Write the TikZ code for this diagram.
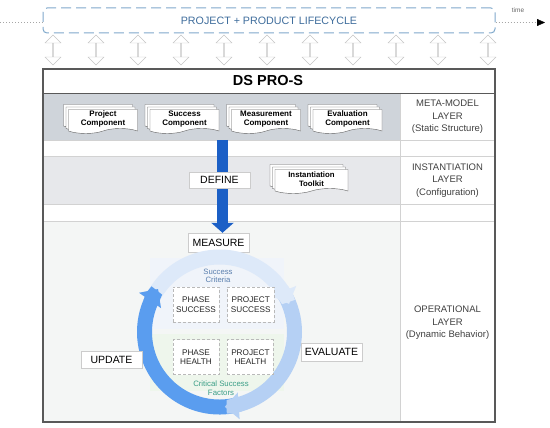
\documentclass[tikz,border=0pt]{standalone}
\usepackage{fontspec}
\setmainfont{Liberation Sans}
\usetikzlibrary{arrows.meta,positioning,shapes.arrows,shapes.symbols,shadows}
\definecolor{lifeblue}{HTML}{3F6D9C}
\definecolor{lifedash}{HTML}{7FA8CB}
\definecolor{defblue}{HTML}{1B5FC6}
\definecolor{metagray}{HTML}{CFD4DA}
\definecolor{instgray}{HTML}{E7E8EB}
\definecolor{opergray}{HTML}{F4F6F5}
\definecolor{ringa}{HTML}{DDE9F9}
\definecolor{ringb}{HTML}{B5D0F4}
\definecolor{ringc}{HTML}{5A9DEF}
\definecolor{critblue}{HTML}{5A7FAE}
\definecolor{critgreen}{HTML}{3A9E86}
\definecolor{bandblue}{HTML}{F0F4FA}
\definecolor{bandgreen}{HTML}{EEF6EC}

\begin{document}
\begin{tikzpicture}[x=1pt,y=-1pt,node distance=81.5pt,
    life/.style={draw=lifedash,dash pattern=on 10pt off 5pt,rounded corners=4pt,
      line width=1pt,minimum width=452pt,minimum height=25pt,text=lifeblue,
      font=\fontsize{10.7}{12}\selectfont},
    sync/.style={double arrow,rotate=90,draw=gray!45,fill=white,inner sep=0pt,
      minimum height=30pt,minimum width=16pt,double arrow head extend=4pt},
    comp/.style={tape,tape bend top=none,tape bend height=5pt,draw=gray!75!black,
      fill=white,double copy shadow={shadow xshift=-2.5pt,shadow yshift=2.5pt,
        draw=gray!75!black,fill=white},
      minimum width=69pt,minimum height=24pt,inner sep=1pt,align=center,
      font=\bfseries\fontsize{8}{9.5}\selectfont},
    layer/.style={align=center,text=black!75,font=\fontsize{9.5}{12.5}\selectfont},
    stage/.style={draw=gray!40,fill=white,minimum width=61pt,minimum height=17pt,
      inner xsep=3pt,font=\fontsize{10.5}{12}\selectfont},
    cell/.style={draw=gray!55,dash pattern=on 3pt off 2pt,fill=white,
      minimum width=46pt,minimum height=35pt,align=center,text=black!85,
      font=\fontsize{8.2}{9.7}\selectfont},
    sep/.style={draw=gray!35,line width=0.6pt},
    ring/.style={line width=15pt},
    ringhead/.style={ring,-{Triangle[width=26pt,length=14pt]}},
    flow/.style={draw=defblue,line width=11pt,-{Triangle[width=22pt,length=10pt]}}]
  \useasboundingbox (0,0) rectangle (550,428);

  \node[life] (life) at (269,20.5) {PROJECT + PRODUCT LIFECYCLE};
  \node[text=black!60,font=\fontsize{6.5}{7}\selectfont] (time) at (518,10) {time};
  \coordinate (past) at (0,22.5);
  \coordinate (future) at (545,22.5);
  \draw[gray!70,dash pattern=on 1pt off 2pt] (past) -- (past -| life.west);
  \draw[gray!70,dash pattern=on 1pt off 2pt,-{Triangle[width=7pt,length=8pt,black]}]
    (life.east |- future) -- (future);
  \foreach \x [count=\i] in {53,96,138,181,224,267,310,353,396,438,488}
    \node[sync] (sync\i) at (\x,50) {};

  \fill[metagray] (43,93) rectangle (400,140);
  \fill[instgray] (43,156) rectangle (400,204);
  \fill[opergray] (43,221) rectangle (400,422);
  \draw[sep] (43,140) -- (495,140) (43,156) -- (495,156)
    (43,204) -- (495,204) (43,221) -- (495,221) (400,93) -- (400,422);
  \draw[gray!70!black,line width=0.8pt] (43,93) -- (495,93);
  \node[font=\bfseries\fontsize{14.5}{16}\selectfont] (dspros) at (268,81) {DS PRO-S};

  \node[comp] (proj) at (103,119) {Project\\Component};
  \node[comp] (succ) [right of=proj] {Success\\Component};
  \node[comp] (meas) [right of=succ] {Measurement\\Component};
  \node[comp] (eval) [right of=meas] {Evaluation\\Component};
  \node[comp,minimum width=73pt,font=\bfseries\fontsize{7.8}{9.5}\selectfont]
    (toolkit) at (311.5,179) {Instantiation\\Toolkit};

  \node[layer] (metalbl) at (447.5,117) {META-MODEL\\LAYER\\(Static Structure)};
  \node[layer] (instlbl) at (447.5,180.5) {INSTANTIATION\\LAYER\\(Configuration)};
  \node[layer] (operlbl) at (447.5,323) {OPERATIONAL\\LAYER\\(Dynamic Behavior)};

  \node[stage,minimum height=19pt] (measure) at (218.5,242.5) {MEASURE};
  \coordinate (defstart) at (222.5,140);
  \draw[flow] (defstart) -- (defstart |- measure.north);
  \node[stage,minimum height=16pt] (define) at (219.5,180) {DEFINE};

  \fill[bandblue] (150,258) rectangle (284,329);
  \fill[bandgreen] (150,334) rectangle (284,391);
  \begin{scope}[shift={(219.5,332)},y=1pt]
    \draw[ring,draw=ringa] (153:75) arc[start angle=153,end angle=29,radius=75];
    \draw[ring,draw=ringb] (30:75) arc[start angle=30,end angle=-79,radius=75];
    \draw[ring,draw=ringc] (-78:75) arc[start angle=-78,end angle=-208,radius=75];
    \draw[ringhead,draw=ringa] (34:75) arc[start angle=34,end angle=22,radius=75];
    \draw[ringhead,draw=ringb] (-74:75) arc[start angle=-74,end angle=-86,radius=75];
    \draw[ringhead,draw=ringc] (157:75) arc[start angle=157,end angle=145,radius=75];
  \end{scope}

  \node[align=center,text=critblue,font=\fontsize{7.7}{8.5}\selectfont]
    (crit) at (218,276) {Success\\Criteria};
  \node[cell] (phsucc) at (196,304.5) {PHASE\\SUCCESS};
  \node[cell] (prsucc) [right=8pt of phsucc] {PROJECT\\SUCCESS};
  \node[cell] (phhealth) at (196,357) {PHASE\\HEALTH};
  \node[cell] (prhealth) [right=8pt of phhealth] {PROJECT\\HEALTH};
  \node[align=center,text=critgreen,font=\fontsize{7.8}{8.5}\selectfont]
    (csf) at (221,388) {Critical Success\\Factors};

  \node[stage] (update) at (111.5,360) {UPDATE};
  \node[stage,minimum height=18pt] (evaluate) at (331.5,352) {EVALUATE};

  \draw[gray!70!black,line width=1.1pt] (43,69) rectangle (495,422);
\end{tikzpicture}
\end{document}
